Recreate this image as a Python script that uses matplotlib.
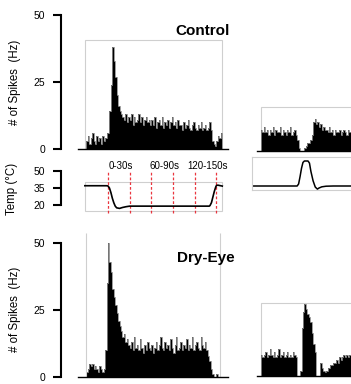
import numpy as np
import matplotlib
matplotlib.use('Agg')
import matplotlib.pyplot as plt
from matplotlib.patches import Rectangle

plt.rcParams['font.family'] = ['Liberation Sans', 'DejaVu Sans']

# ---------------- data ----------------
bin_width = 2.0          # s
main_start = -30.0       # s, first bin of the long recordings
inset_start = 0.0        # s, first bin of the right insets

control_rate = [3, 5, 2, 4, 6, 3, 2, 5, 3, 4, 2, 5, 3, 4, 6,
                6, 14, 24, 38, 33, 27, 20, 16, 14, 13, 12,
                11, 13, 10, 12, 11, 13, 9, 12, 10, 11, 13, 10, 12, 9, 11, 12, 10, 11, 9,
                11, 9, 12, 8, 10, 11, 9, 12, 8, 10, 9, 11, 8, 10, 12, 9, 10, 8, 11, 9,
                9, 7, 10, 8, 9, 11, 8, 7, 9, 10, 8, 7, 9, 8, 10, 7, 8, 9, 7, 8, 10, 7,
                3, 2, 1, 3, 5, 4, 6]

dryeye_rate = [2, 3, 5, 4, 5, 3, 4, 3, 2, 4, 3, 2, 3,
               10, 35, 50, 43, 39, 33, 30, 27, 24, 21, 19, 17, 15, 16, 13, 14, 12,
               11, 13, 10, 15, 11, 12, 10, 14, 11, 9,
               12, 10, 13, 11, 10, 12, 9, 11, 13, 10,
               12, 15, 11, 10, 13, 11, 12, 10, 14, 11,
               9, 12, 15, 10, 11, 13, 10, 12, 11, 14,
               10, 12, 11, 15, 10, 12, 13, 11, 10, 15,
               12, 11, 13,
               10, 8, 6, 3, 1, 0, 0, 1.2, 0, 0, 0]

control_inset_rate = [8, 7, 9, 7, 8, 6, 8, 7, 9, 6, 8, 7, 7, 9, 6, 8, 7, 6, 8, 7, 9, 6, 7, 8, 6,
                      4, 1, 0, 0, 0, 1, 2, 3,
                      3, 4, 6, 11, 12, 10, 11, 9, 10, 8, 9, 8,
                      8, 7, 9, 7, 8, 6, 8, 7, 7, 8, 6, 7, 8, 7, 6, 8, 7, 7, 8, 6, 7]

dryeye_inset_rate = [8, 7, 8, 9, 7, 8, 10, 8, 7, 9, 7, 8, 10, 7, 8, 9, 7, 8, 9, 7, 8, 7, 9, 8, 7,
                     0, 0, 2,
                     18, 24, 27, 25, 23, 22, 20, 16, 12, 9,
                     0, 0, 0,
                     5, 3,
                     2, 1.5, 2, 3, 3,
                     4, 4, 5, 5, 6, 5, 7, 6, 7, 8, 7, 8, 7, 8, 8, 7, 8, 7]

temp_t = [-32, -2, 0, 2, 4, 6, 8, 10, 12, 16, 20, 25, 30, 60, 140, 141, 143, 145, 147, 149, 150, 152, 158]
temp_c = [37, 37, 36.8, 35, 31, 26, 22, 19, 17.5, 17, 17.8, 18.5, 19, 19, 19, 19.5, 22, 27, 32, 36, 37.3, 37.5, 36.7]

inset_temp_t = [-13, 50, 52, 54, 56, 58, 60, 65, 67, 69, 72, 75, 78, 80, 84, 90, 100, 170]
inset_temp_c = [32, 32, 33, 36.5, 40.5, 43.3, 44, 44, 43, 39, 34.5, 31.5, 30.5, 31, 31.6, 31.9, 32, 32]

window_edges = [0, 30, 60, 90, 120, 150]
window_labels = ['0-30s', '60-90s', '120-150s']
window_label_t = [17.5, 77.5, 137.5]
spike_ticks = [0, 25, 50]
temp_ticks = [20, 35, 50]

# ---------------- layout helpers (pixels) ----------------
W, H, DPI = 351, 384, 100
fig = plt.figure(figsize=(W / DPI, H / DPI), dpi=DPI)
fig.patch.set_facecolor('white')

PX_PER_S = 0.7233


def tx(px):      # left panels: pixel -> seconds
    return (px - 108) / PX_PER_S


def rtx(px):     # right panels: pixel -> seconds
    return (px - 261) / PX_PER_S


def add_ax(l, t, r, b):
    return fig.add_axes([l / W, 1 - b / H, (r - l) / W, (b - t) / H])


GRAY = '#cfcfcf'
OFFSET_PT = 17 * 72 / DPI


def draw_hist(ax, start, rates):
    rates = np.asarray(rates, dtype=float)
    edges = start + bin_width * np.arange(len(rates) + 1)
    ax.stairs(rates, edges, fill=True, color='black', lw=0)
    ax.stairs(rates, edges, color='#8c8c8c', lw=0.6)


def style_main(ax, bounds, ticks, bottom=True):
    for s in ['top', 'right']:
        ax.spines[s].set_visible(False)
    ax.spines['bottom'].set_visible(bottom)
    ax.spines['bottom'].set_linewidth(1.0)
    ax.spines['left'].set_position(('outward', OFFSET_PT))
    ax.spines['left'].set_bounds(*bounds)
    ax.spines['left'].set_linewidth(1.5)
    ax.set_yticks(ticks)
    ax.set_xticks([])
    ax.tick_params(axis='y', length=6, width=1.5, pad=5.5, labelsize=7.5)
    ax.patch.set_alpha(0)


# ---------------- top-left: control histogram ----------------
ax1 = add_ax(78, 15, 228, 149)
ax1.set_xlim(tx(78), tx(228))
ax1.set_ylim(0, 50)
ax1.add_patch(Rectangle((tx(85), 0), tx(222) - tx(85), (149 - 40) / 2.68,
                        fill=False, edgecolor=GRAY, lw=0.8))
draw_hist(ax1, main_start, control_rate)
style_main(ax1, (0, 50), spike_ticks)

# ---------------- temperature panel ----------------
def tv(py):
    return 50 - (py - 171) * 30 / 34


ax2 = add_ax(78, 165, 228, 215)
ax2.set_xlim(tx(78), tx(228))
ax2.set_ylim(tv(215), tv(165))
ax2.add_patch(Rectangle((tx(85), tv(211)), tx(222) - tx(85), tv(182) - tv(211),
                        fill=False, edgecolor=GRAY, lw=0.8))
ax2.vlines(window_edges, tv(213), tv(172), colors='#e8202a',
           linestyles=(0, (2.2, 1.6)), lw=0.9, alpha=0.9)
ax2.plot(temp_t, temp_c, color='black', lw=1.2)
for lab, t in zip(window_labels, window_label_t):
    ax2.text(t, tv(165.7), lab, ha='center', va='center', fontsize=7)
style_main(ax2, (20, 50), temp_ticks, bottom=False)

# ---------------- bottom-left: dry-eye histogram ----------------
ax3 = add_ax(78, 230, 228, 377)
ax3.set_xlim(tx(78), tx(228))
ax3.set_ylim(0, (377 - 230) / 2.68)
ax3.vlines([tx(86), tx(220)], 0, (377 - 233) / 2.68, colors=GRAY, lw=0.8)
draw_hist(ax3, main_start, dryeye_rate)
style_main(ax3, (0, 50), spike_ticks)

# ---------------- right insets ----------------
def style_inset_hist(ax):
    for s in ['top', 'right', 'left']:
        ax.spines[s].set_visible(False)
    ax.spines['bottom'].set_linewidth(1.0)
    ax.set_xticks([])
    ax.set_yticks([])
    ax.patch.set_alpha(0)


ax4 = add_ax(257, 107, 380, 151)
ax4.set_xlim(rtx(257), rtx(380))
top4 = 44 / 2.68
ax4.set_ylim(0, top4)
ax4.add_patch(Rectangle((rtx(260.5), 0), 300, top4, fill=False, edgecolor=GRAY,
                        lw=0.8, clip_on=False))
draw_hist(ax4, inset_start, control_inset_rate)
style_inset_hist(ax4)

ax5 = add_ax(252, 157, 380, 190)
ax5.set_xlim(rtx(252), rtx(380))
ax5.set_ylim(30.08, 45.92)
ax5.plot(inset_temp_t, inset_temp_c, color='black', lw=1.1)
for s in ax5.spines.values():
    s.set_edgecolor(GRAY)
    s.set_linewidth(0.8)
ax5.set_xticks([])
ax5.set_yticks([])

ax6 = add_ax(257, 303, 380, 376)
ax6.set_xlim(rtx(257), rtx(380))
top6 = 73 / 2.68
ax6.set_ylim(0, top6)
ax6.add_patch(Rectangle((rtx(260.5), 0), 300, top6, fill=False, edgecolor=GRAY,
                        lw=0.8, clip_on=False))
draw_hist(ax6, inset_start, dryeye_inset_rate)
style_inset_hist(ax6)

# ---------------- texts ----------------
fig.text(230 / W, 1 - 35 / H, 'Control', ha='right', va='baseline',
         fontsize=11, fontweight='bold')
fig.text(177 / W, 1 - 262 / H, 'Dry-Eye', ha='left', va='baseline',
         fontsize=11, fontweight='bold')
fig.text(15 / W, 1 - 82.5 / H, '# of Spikes  (Hz)', rotation=90,
         ha='center', va='center', fontsize=8.3)
fig.text(15 / W, 1 - 309 / H, '# of Spikes  (Hz)', rotation=90,
         ha='center', va='center', fontsize=8.3)
fig.text(12 / W, 1 - 189 / H, 'Temp (°C)', rotation=90,
         ha='center', va='center', fontsize=8.3)

fig.savefig('out.png', dpi=DPI)
